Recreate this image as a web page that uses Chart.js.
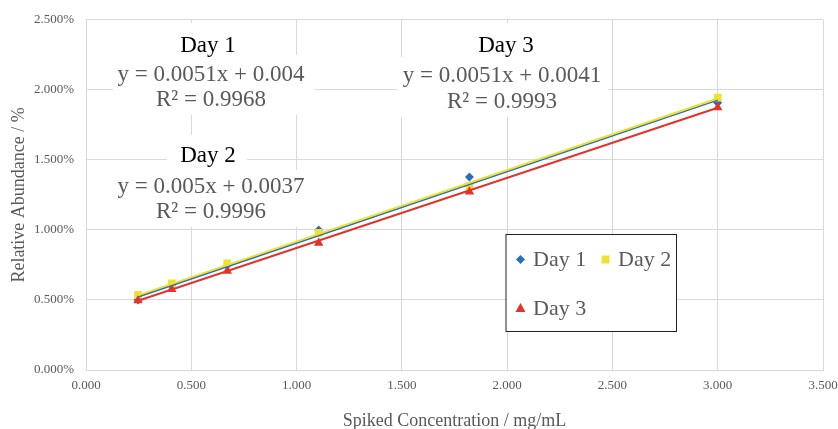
<!DOCTYPE html>
<html>
<head>
<meta charset="utf-8">
<script src="https://cdn.jsdelivr.net/npm/chart.js@4.4.0/dist/chart.umd.min.js"></script>
<style>
  html, body { margin: 0; padding: 0; background: #ffffff; }
  #wrap { width: 838px; height: 429px; }
</style>
</head>
<body>
<div id="wrap"><canvas id="calib" width="838" height="429"></canvas></div>
<script>
// data (abundance in %)
const conc = [0.247, 0.407, 0.671, 1.105, 1.821, 3.0];
const day1 = [0.50, 0.605, 0.745, 1.00, 1.378, 1.908];
const day2 = [0.537, 0.619, 0.761, 0.979, 1.312, 1.945];
const day3 = [0.497, 0.577, 0.707, 0.906, 1.272, 1.874];

// trendline ends as drawn
const trendX = [0.247, 3.0];
const trend1 = [0.523, 1.928];
const trend2 = [0.533, 1.938];
const trend3 = [0.494, 1.872];

const dayLabels = ['Day 1', 'Day 2', 'Day 3'];
const fitLabels = [
    ['Day 1', 'y = 0.0051x + 0.004', 'R\u00b2 = 0.9968'],
    ['Day 2', 'y = 0.005x + 0.0037', 'R\u00b2 = 0.9996'],
    ['Day 3', 'y = 0.0051x + 0.0041', 'R\u00b2 = 0.9993']
];

const BLUE = '#2a6fb5';
const YELLOW = '#ede234';
const RED = '#e3342b';
const GREY = '#595959';
const GRID = '#d9d9d9';
const SERIF = '"Liberation Serif", "Times New Roman", serif';

const toPts = (xs, ys) => xs.map((x, i) => ({ x: x, y: ys[i] }));

// white label boxes + text, like excel's trendline labels
const labelPlugin = {
    id: 'fitLabels',
    afterDraw: (chart) => {
        const ctx = chart.ctx;
        const boxes = [
            // title box, equation box, text positions
            { t: [165, 23, 88, 32], e: [113, 55, 201, 60], cx: 211, tx: 208, ty: [51.5, 81, 106] },
            { t: [167, 135, 80, 35], e: [110, 170, 202, 57], cx: 211, tx: 208, ty: [162, 193, 218] },
            { t: [462, 23, 88, 32], e: [397, 57, 211, 60], cx: 502, tx: 506, ty: [51.5, 82, 108] }
        ];
        ctx.save();
        ctx.font = `23px ${SERIF}`;
        ctx.textAlign = 'center';
        ctx.textBaseline = 'alphabetic';
        boxes.forEach((b, i) => {
            ctx.fillStyle = '#ffffff';
            ctx.fillRect(...b.t);
            ctx.fillRect(...b.e);
            ctx.fillStyle = '#000000';
            ctx.fillText(fitLabels[i][0], b.tx, b.ty[0]);
            ctx.fillStyle = GREY;
            ctx.fillText(fitLabels[i][1], b.cx, b.ty[1]);
            ctx.fillText(fitLabels[i][2], b.cx, b.ty[2]);
        });
        ctx.restore();
    }
};

// boxed legend sitting inside the plot
const legendPlugin = {
    id: 'boxLegend',
    afterDraw: (chart) => {
        const ctx = chart.ctx;
        const x0 = 506, y0 = 234.5, w = 170.5, h = 97;
        ctx.save();
        ctx.fillStyle = '#ffffff';
        ctx.fillRect(x0, y0, w, h);
        ctx.strokeStyle = '#222222';
        ctx.lineWidth = 1;
        ctx.strokeRect(x0, y0, w, h);
        const items = [
            { x: 520.5, y: 259.5, style: 'rectRot', color: BLUE },
            { x: 605.5, y: 259.5, style: 'rect', color: YELLOW },
            { x: 520.5, y: 308, style: 'triangle', color: RED }
        ];
        ctx.font = `22px ${SERIF}`;
        ctx.textBaseline = 'middle';
        items.forEach((it, i) => {
            ctx.fillStyle = it.color;
            ctx.beginPath();
            if (it.style === 'rectRot') {
                ctx.moveTo(it.x, it.y - 4.5);
                ctx.lineTo(it.x + 4.5, it.y);
                ctx.lineTo(it.x, it.y + 4.5);
                ctx.lineTo(it.x - 4.5, it.y);
            } else if (it.style === 'rect') {
                ctx.rect(it.x - 4, it.y - 4, 8, 8);
            } else {
                ctx.moveTo(it.x, it.y - 5);
                ctx.lineTo(it.x + 5, it.y + 4);
                ctx.lineTo(it.x - 5, it.y + 4);
            }
            ctx.closePath();
            ctx.fill();
            ctx.fillStyle = GREY;
            ctx.fillText(dayLabels[i], it.x + 12.5, it.y + 1);
        });
        ctx.restore();
    }
};

const whiteBg = {
    id: 'whiteBg',
    beforeDraw: (chart) => {
        const ctx = chart.ctx;
        ctx.save();
        ctx.fillStyle = '#ffffff';
        ctx.fillRect(0, 0, chart.width, chart.height);
        ctx.restore();
    }
};

const markerSet = (label, data, color, style, radius, order) => ({
    type: 'scatter',
    label: label,
    data: data,
    pointStyle: style,
    pointRadius: radius,
    pointHoverRadius: radius,
    backgroundColor: color,
    borderColor: color,
    borderWidth: 0,
    order: order
});

const trendSet = (data, color, order) => ({
    type: 'line',
    data: data,
    borderColor: color,
    borderWidth: 2,
    pointRadius: 0,
    fill: false,
    order: order
});

new Chart(document.getElementById('calib').getContext('2d'), {
    type: 'scatter',
    data: {
        datasets: [
            markerSet(dayLabels[0], toPts(conc, day1), BLUE, 'rectRot', 4.5, 5),
            markerSet(dayLabels[1], toPts(conc, day2), YELLOW, 'rect', 5.5, 4),
            markerSet(dayLabels[2], toPts(conc, day3), RED, 'triangle', 5.5, 3),
            trendSet(toPts(trendX, trend1), BLUE, 2),
            trendSet(toPts(trendX, trend2), YELLOW, 1),
            trendSet(toPts(trendX, trend3), RED, 0)
        ]
    },
    options: {
        responsive: false,
        animation: false,
        layout: { padding: { left: 0, top: 17, right: 15, bottom: 0 } },
        plugins: {
            legend: { display: false },
            tooltip: { enabled: false }
        },
        scales: {
            x: {
                type: 'linear',
                min: 0,
                max: 3.5,
                ticks: {
                    stepSize: 0.5,
                    padding: 8,
                    color: GREY,
                    font: { family: SERIF, size: 13 },
                    callback: (v) => v.toFixed(3)
                },
                grid: { color: GRID, lineWidth: 1, drawTicks: false },
                border: { color: GRID },
                title: {
                    display: true,
                    text: 'Spiked Concentration / mg/mL',
                    color: GREY,
                    font: { family: SERIF, size: 18 },
                    padding: { top: 0, bottom: -3 }
                },
                afterFit: (scale) => {
                    scale.height = 59;
                    scale.paddingRight = 0;
                    scale.paddingLeft = 0;
                }
            },
            y: {
                type: 'linear',
                min: 0,
                max: 2.5,
                ticks: {
                    stepSize: 0.5,
                    padding: 12,
                    color: GREY,
                    font: { family: SERIF, size: 13 },
                    callback: (v) => v.toFixed(3) + '%'
                },
                grid: { color: GRID, lineWidth: 1, drawTicks: false },
                border: { color: GRID },
                title: {
                    display: true,
                    text: 'Relative Abundance / %',
                    color: GREY,
                    font: { family: SERIF, size: 18 },
                    padding: { top: 8, bottom: 0 }
                },
                afterFit: (scale) => { scale.width = 86; }
            }
        }
    },
    plugins: [whiteBg, labelPlugin, legendPlugin]
});
</script>
</body>
</html>
